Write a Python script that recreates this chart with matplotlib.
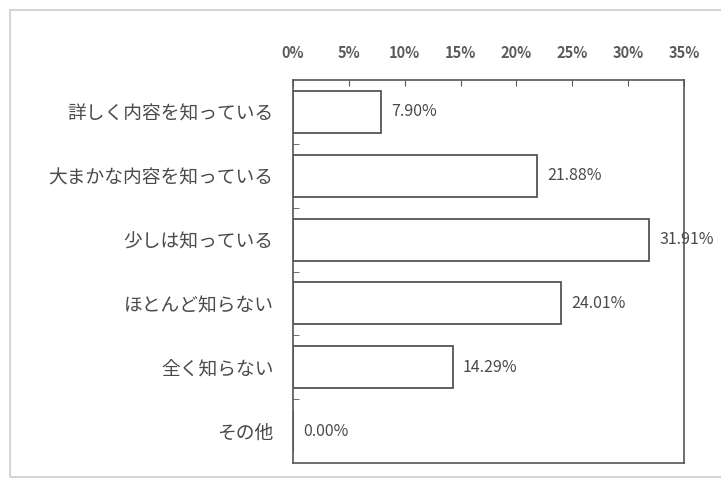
import matplotlib
matplotlib.use("Agg")
import matplotlib.pyplot as plt
import numpy as np
from matplotlib.patches import Rectangle

plt.rcParams['font.family'] = ['Noto Sans CJK JP', 'DejaVu Sans']

# data
categories = ["詳しく内容を知っている", "大まかな内容を知っている", "少しは知っている",
              "ほとんど知らない", "全く知らない", "その他"]
values = [7.90, 21.88, 31.91, 24.01, 14.29, 0.00]
xticks = [0, 5, 10, 15, 20, 25, 30, 35]

text_c = '#4a4a4a'
line_c = '#555555'

fig = plt.figure(figsize=(7.21, 4.79), dpi=100)
ax = fig.add_axes([293/721, 1 - 463/479, (684 - 293)/721, (463 - 80)/479])

y = np.arange(len(categories))
ax.barh(y, values, height=0.66, color='white', edgecolor=line_c, linewidth=1.3)

for yi, v in zip(y, values):
    ax.text(v + 0.9, yi, f"{v:.2f}%", va='center', ha='left', fontsize=11.5, color=text_c)

ax.set_xlim(0, 35)
ax.set_ylim(len(categories) - 0.5, -0.5)

ax.xaxis.tick_top()
ax.set_xticks(xticks)
ax.set_xticklabels([f"{t}%" for t in xticks], fontsize=10.5, fontweight='bold', color='#5a5a5a')
ax.tick_params(axis='x', direction='in', length=4, pad=14, color=line_c)

ax.set_yticks(y)
ax.set_yticklabels(categories, fontsize=13.5, color=text_c)
ax.tick_params(axis='y', which='major', length=0, pad=14)
ax.set_yticks(np.arange(0.5, len(categories) - 1), minor=True)
ax.tick_params(axis='y', which='minor', direction='in', length=4, color=line_c)

for s in ax.spines.values():
    s.set_color(line_c)
    s.set_linewidth(1.2)

# faint outer frame of the scanned chart
fig.patches.append(Rectangle((10/721, 2/479), 1.0, 1 - 12/479, transform=fig.transFigure,
                             fill=False, edgecolor='#cccccc', linewidth=1.2))

fig.savefig("out.png", dpi=100)
